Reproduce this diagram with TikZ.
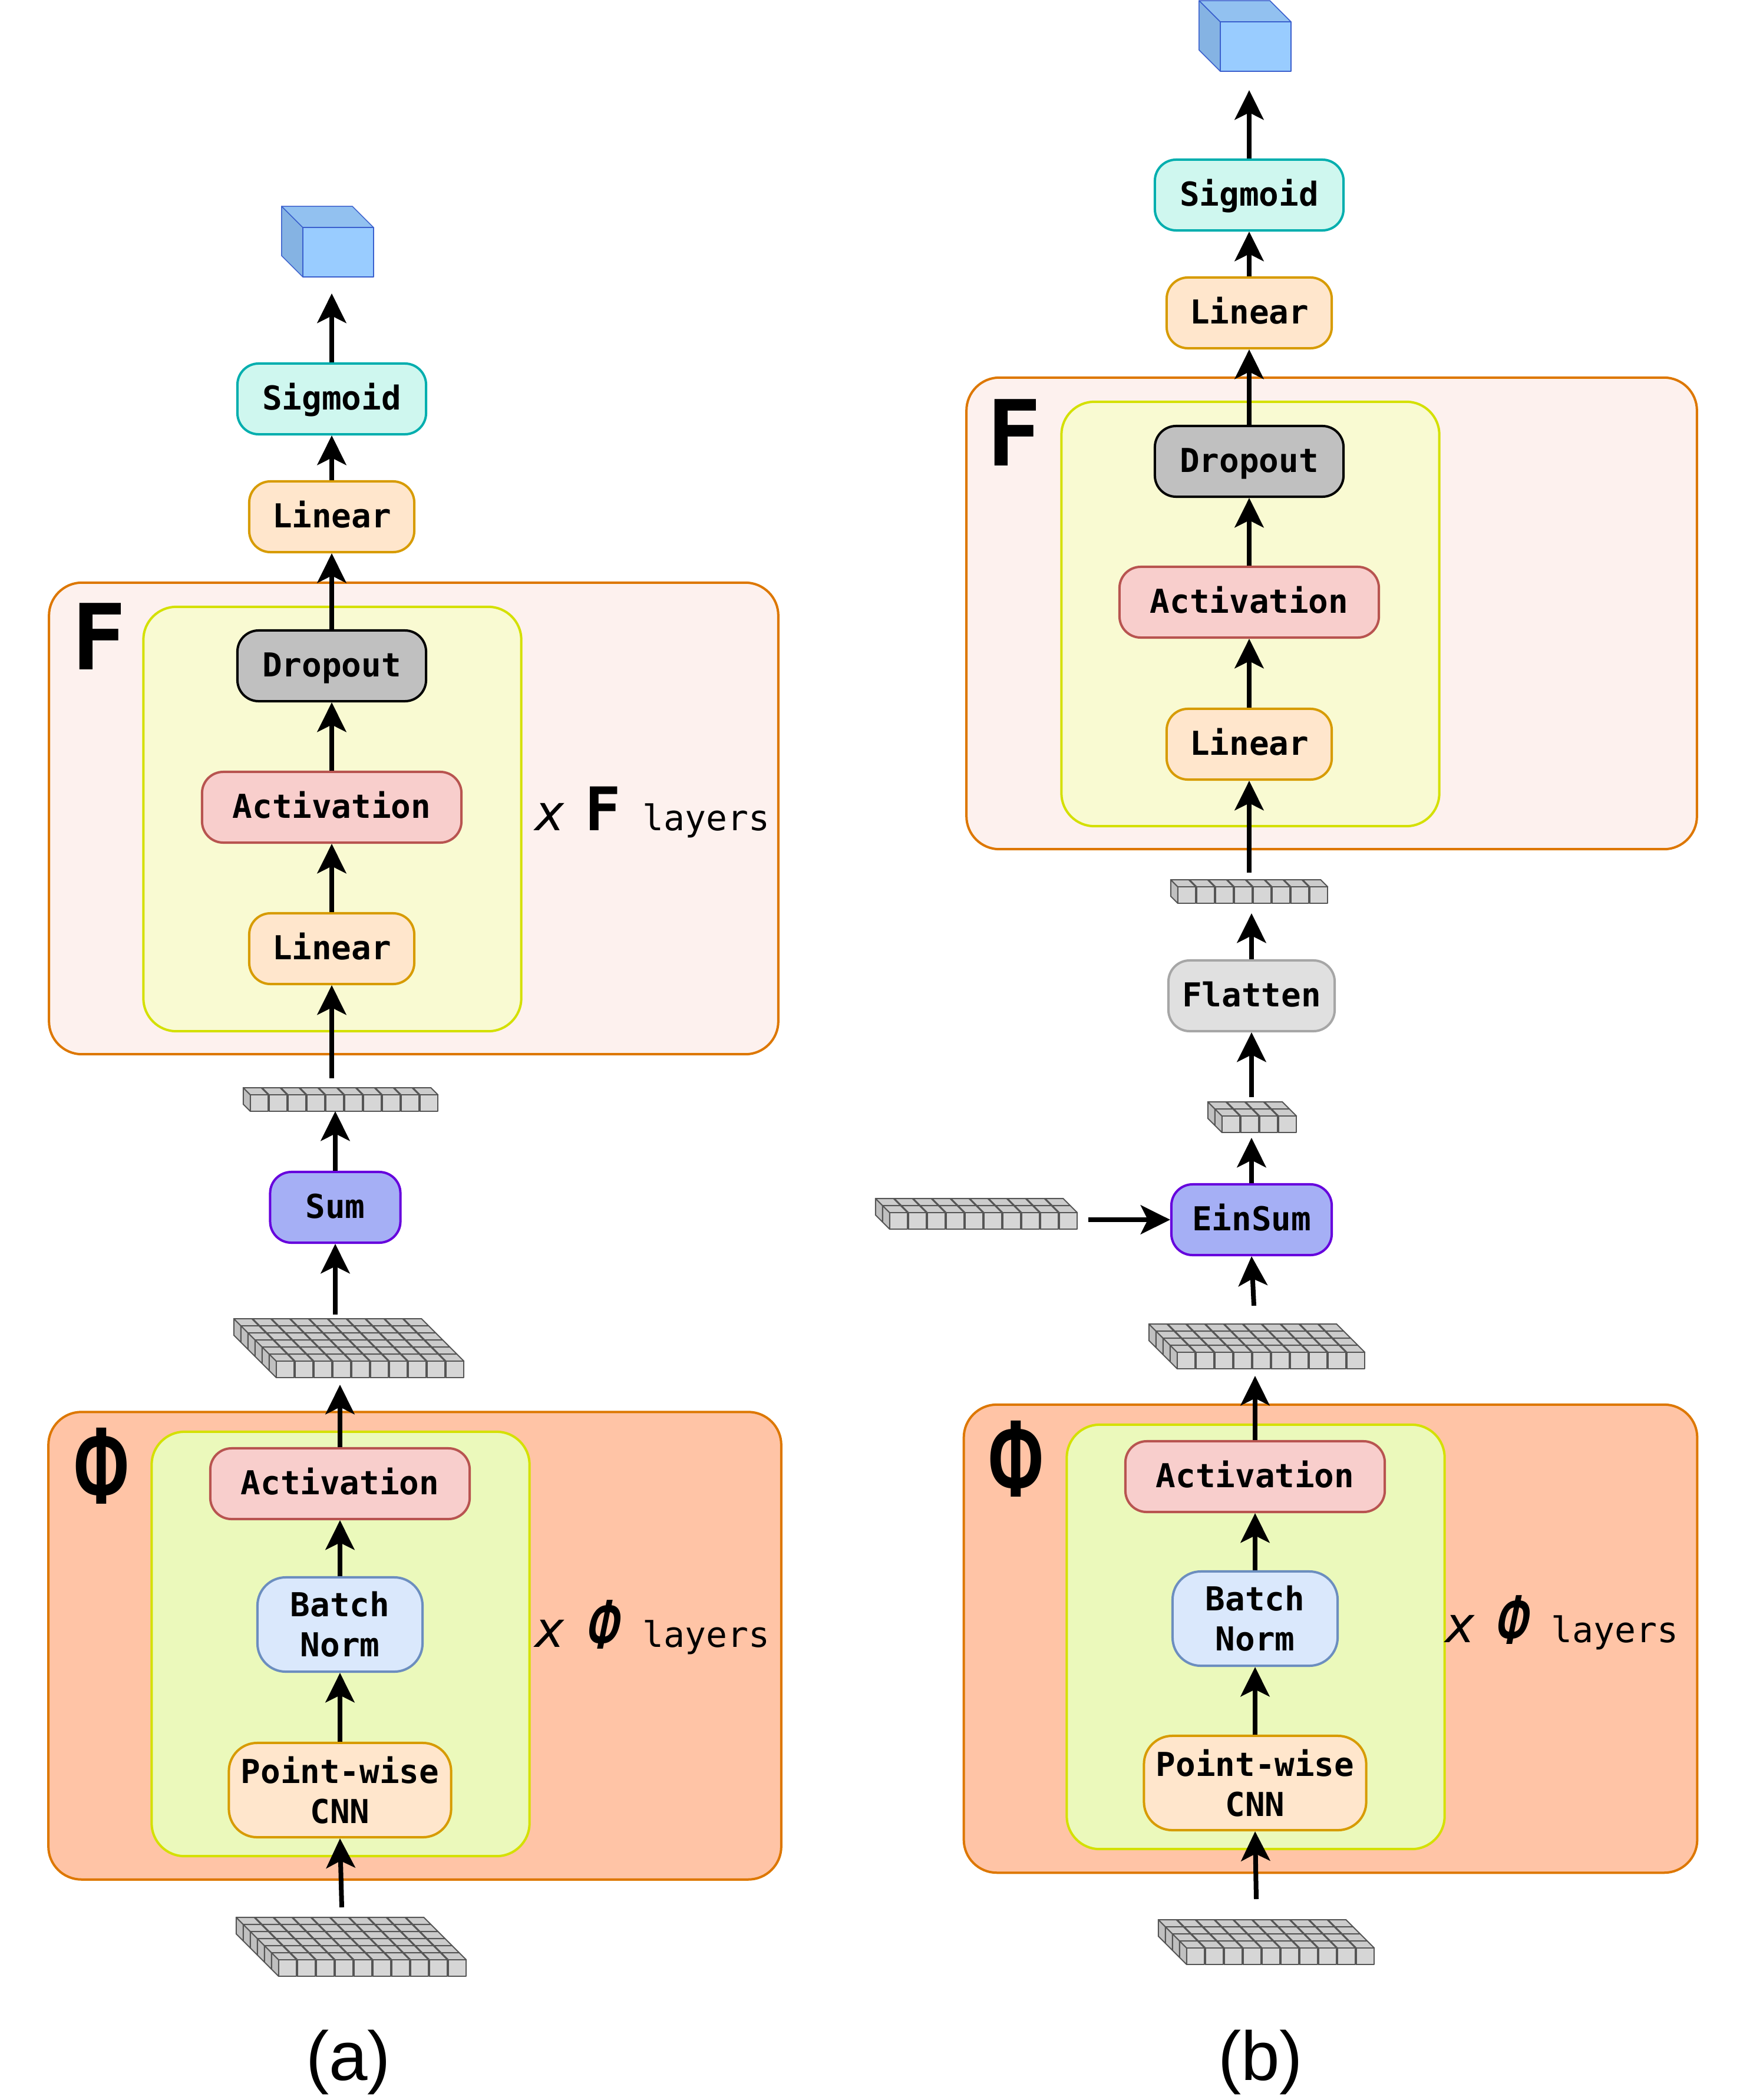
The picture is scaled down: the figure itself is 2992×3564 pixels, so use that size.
\documentclass[tikz,border=0pt]{standalone}
\usepackage{fontspec}
\setmainfont{Liberation Sans}
\setmonofont{DejaVu Sans Mono}
\newfontfamily\phifont{Fira Sans}
\usetikzlibrary{arrows.meta}

\definecolor{actfill}{HTML}{F8CECC}
\definecolor{actline}{HTML}{B85450}
\definecolor{linfill}{HTML}{FFE6CC}
\definecolor{linline}{HTML}{D79B00}
\definecolor{bnfill}{HTML}{DAE8FC}
\definecolor{bnline}{HTML}{6C8EBF}
\definecolor{sigfill}{HTML}{CFF7EF}
\definecolor{sigline}{HTML}{00AEAE}
\definecolor{dropfill}{HTML}{C0C0C0}
\definecolor{sumfill}{HTML}{A5AFF5}
\definecolor{sumline}{HTML}{6600DD}
\definecolor{flatfill}{HTML}{E0E0E0}
\definecolor{flatline}{HTML}{A6A6A6}
\definecolor{panelline}{HTML}{DD7700}
\definecolor{panelF}{HTML}{FDF1EE}
\definecolor{panelPhi}{HTML}{FFC4A6}
\definecolor{innerline}{HTML}{D4E000}
\definecolor{innerF}{HTML}{F9FAD2}
\definecolor{innerPhi}{HTML}{EBF9BB}
\definecolor{cellfront}{HTML}{D6D6D6}
\definecolor{celltop}{HTML}{CCCCCC}
\definecolor{cellleft}{HTML}{C0C0C0}
\definecolor{cellline}{HTML}{555555}
\definecolor{cubefront}{HTML}{99CCFF}
\definecolor{cubetop}{HTML}{92C1F0}
\definecolor{cubeleft}{HTML}{85B3E3}
\definecolor{cubeline}{HTML}{3A5FCD}

\tikzset{
  block/.style={draw, rounded corners=0.36cm, line width=0.04cm, inner sep=0, align=center,
    minimum height=1.2cm, text height=0.48cm, text depth=0.11cm,
    font=\ttfamily\bfseries\fontsize{15.9}{19.35}\selectfont},
  tallblock/.style={block, rounded corners=0.48cm, minimum height=1.6cm, text height=, text depth=},
  actbox/.style={block, fill=actfill, draw=actline, minimum width=4.4cm},
  linbox/.style={block, fill=linfill, draw=linline, minimum width=2.8cm},
  sigbox/.style={block, fill=sigfill, draw=sigline, minimum width=3.2cm},
  dropbox/.style={block, fill=dropfill, draw=black, minimum width=3.2cm},
  sumbox/.style={block, fill=sumfill, draw=sumline},
  flatbox/.style={block, fill=flatfill, draw=flatline, minimum width=2.82cm},
  bnbox/.style={tallblock, fill=bnfill, draw=bnline, minimum width=2.8cm},
  cnnbox/.style={tallblock, fill=linfill, draw=linline, minimum width=3.77cm},
  panel/.style={draw=panelline, rounded corners=0.56cm, line width=0.04cm, inner sep=0},
  inner/.style={draw=innerline, rounded corners=0.56cm, line width=0.04cm, inner sep=0,
    minimum width=6.41cm, minimum height=7.2cm},
  flow/.style={line width=0.08cm, -{Stealth[length=0.5cm,width=0.49cm,inset=0.12cm]}},
  bigmark/.style={inner sep=0, font=\ttfamily\bfseries\fontsize{44}{44}\selectfont},
  bigphi/.style={inner sep=0, font=\phifont\bfseries\fontsize{53}{53}\selectfont},
  timesmark/.style={anchor=base west, inner sep=0, font=\ttfamily\itshape\fontsize{24}{24}\selectfont},
  countmark/.style={anchor=base west, inner sep=0, font=\ttfamily\bfseries\fontsize{29}{29}\selectfont},
  countphi/.style={anchor=base west, inner sep=0, transform shape, xslant=0.2,
    font=\phifont\bfseries\fontsize{34}{34}\selectfont},
  layerword/.style={anchor=base west, inner sep=0, font=\ttfamily\fontsize{17}{17}\selectfont},
  caption/.style={inner sep=0, font=\rmfamily\fontsize{33.5}{33.5}\selectfont},
  cell/.style={draw=cellline, line width=0.02cm, line join=round},
  hull/.style={inner sep=0, outer sep=0}
}

% name, centre x, centre y, columns, rows
\newcommand{\tensorgrid}[5]{
  \pgfmathsetmacro{\gridw}{#4*32+#5*12-1.5}
  \pgfmathsetmacro{\gridh}{#5*12+28}
  \node[hull, minimum width=\gridw*0.01cm, minimum height=\gridh*0.01cm] (#1) at (#2,#3) {};
  \begin{scope}[shift={(#1.south west)}]
    \pgfmathtruncatemacro{\lastrow}{#5-1}
    \pgfmathtruncatemacro{\lastcol}{#4-1}
    \foreach \row in {\lastrow,...,0} {
      \foreach \col in {\lastcol,...,0} {
        \pgfmathsetmacro{\cx}{(#5-\row)*12+\col*32}
        \pgfmathsetmacro{\cy}{-\row*12}
        \draw[cell, fill=cellleft] (\cx,\cy) -- ++(-12,-12) -- ++(0,-28) -- ++(12,12) -- cycle;
        \draw[cell, fill=celltop] (\cx,\cy-28) -- ++(-12,-12) -- ++(30.5,0) -- ++(12,12) -- cycle;
        \draw[cell, fill=cellfront] (\cx,\cy) rectangle ++(30.5,-28);
      }
    }
  \end{scope}
}

% name, centre x, centre y
\newcommand{\outcube}[3]{
  \node[hull, minimum width=1.56cm, minimum height=1.2cm] (#1) at (#2,#3) {};
  \begin{scope}[shift={(#1.south west)}, draw=cubeline, line width=0.015cm, line join=round]
    \draw[fill=cubeleft] (36,0) -- (0,-36) -- (0,-120) -- (36,-84) -- cycle;
    \draw[fill=cubetop] (0,-120) -- (120,-120) -- (156,-84) -- (36,-84) -- cycle;
    \draw[fill=cubefront] (36,0) rectangle (156,-84);
  \end{scope}
}

\begin{document}
\begin{tikzpicture}[x=0.01cm, y=-0.01cm]
  \useasboundingbox (0,0) rectangle (2992,3564);

  % (a)
  \node[panel, fill=panelF, minimum width=12.37cm, minimum height=8cm] (panelFa) at (702,1389) {};
  \node[inner, fill=innerF] (innerFa) at (564,1390) {};
  \node[panel, fill=panelPhi, minimum width=12.43cm, minimum height=7.93cm] (panelPhia) at (704,2793) {};
  \node[inner, fill=innerPhi] (innerPhia) at (578,2790) {};

  \node[sigbox] (sigA) at (563,677) {Sigmoid};
  \node[linbox] (linTopA) at (563,877) {Linear};
  \node[dropbox] (dropA) at (563,1130) {Dropout};
  \node[actbox] (actFA) at (563,1370) {Activation};
  \node[linbox] (linFA) at (563,1610) {Linear};
  \node[sumbox, minimum width=2.21cm] (sumA) at (569,2049) {Sum};
  \node[actbox] (actPhiA) at (577,2518) {Activation};
  \node[bnbox] (bnA) at (577,2757) {Batch\\Norm};
  \node[cnnbox] (cnnA) at (577,3038) {Point-wise\\CNN};

  \outcube{cubeA}{556}{410}
  \tensorgrid{vecA}{578}{1866}{10}{1}
  \tensorgrid{gridA}{592}{2288}{10}{6}
  \tensorgrid{gridInA}{596}{3304}{10}{6}
  \coordinate (tailA) at (580,3237);

  \draw[flow, shorten >=0.28cm] (sigA.north) -- (sigA.north |- cubeA.south);
  \draw[flow] (linTopA.north) -- (sigA.south);
  \draw[flow] (dropA.north) -- (linTopA.south);
  \draw[flow] (actFA.north) -- (dropA.south);
  \draw[flow] (linFA.north) -- (actFA.south);
  \draw[flow, shorten <=0.16cm] (linFA.south |- vecA.north) -- (linFA.south);
  \draw[flow] (sumA.north) -- (sumA.north |- vecA.south);
  \draw[flow, shorten <=0.07cm] (sumA.south |- gridA.north) -- (sumA.south);
  \draw[flow, shorten >=0.12cm] (actPhiA.north) -- (actPhiA.north |- gridA.south);
  \draw[flow] (bnA.north) -- (actPhiA.south);
  \draw[flow] (cnnA.north) -- (bnA.south);
  \draw[flow] (tailA) -- (cnnA.south);

  \node[bigmark] (markFa) at (168,1080) {F};
  \node[bigphi] (markPhia) at (172,2488) {\scalebox{0.57}[1]{Φ}};
  \node[timesmark] (timesFa) at (908,1409) {x};
  \node[countmark] (countFa) at (992,1409) {F};
  \node[layerword] (wordFa) at (1090,1409) {layers};
  \node[timesmark] (timesPhia) at (908,2795) {x};
  \node[countphi] (countPhia) at (992,2798) {\scalebox{0.52}[1]{Φ}};
  \node[layerword] (wordPhia) at (1090,2795) {layers};
  \node[caption] (capA) at (591,3500) {(a)};

  % (b)
  \node[panel, fill=panelF, minimum width=12.39cm, minimum height=8cm] (panelFb) at (2260,1041) {};
  \node[inner, fill=innerF] (innerFb) at (2122,1042) {};
  \node[panel, fill=panelPhi, minimum width=12.44cm, minimum height=7.94cm] (panelPhib) at (2258,2781) {};
  \node[inner, fill=innerPhi] (innerPhib) at (2131,2778) {};

  \node[sigbox] (sigB) at (2120,331) {Sigmoid};
  \node[linbox] (linTopB) at (2120,531) {Linear};
  \node[dropbox] (dropB) at (2120,783) {Dropout};
  \node[actbox] (actFB) at (2120,1022) {Activation};
  \node[linbox] (linFB) at (2120,1263) {Linear};
  \node[flatbox] (flatB) at (2124,1690) {Flatten};
  \node[sumbox, minimum width=2.72cm] (einB) at (2124,2070) {EinSum};
  \node[actbox] (actPhiB) at (2130,2506) {Activation};
  \node[bnbox] (bnB) at (2130,2747) {Batch\\Norm};
  \node[cnnbox] (cnnB) at (2130,3026) {Point-wise\\CNN};

  \outcube{cubeB}{2113}{61}
  \tensorgrid{vecB}{2120}{1513}{8}{1}
  \tensorgrid{smallB}{2125}{1896}{4}{2}
  \tensorgrid{sideB}{1657}{2060}{10}{2}
  \tensorgrid{gridB}{2133}{2285}{10}{4}
  \tensorgrid{gridInB}{2149}{3296}{10}{4}
  \coordinate (tailGridB) at (2128,2216);
  \coordinate (tailB) at (2132,3223);

  \draw[flow, shorten >=0.32cm] (sigB.north) -- (sigB.north |- cubeB.south);
  \draw[flow] (linTopB.north) -- (sigB.south);
  \draw[flow] (dropB.north) -- (linTopB.south);
  \draw[flow] (actFB.north) -- (dropB.south);
  \draw[flow] (linFB.north) -- (actFB.south);
  \draw[flow, shorten <=0.12cm] (linFB.south |- vecB.north) -- (linFB.south);
  \draw[flow, shorten >=0.17cm] (flatB.north) -- (flatB.north |- vecB.south);
  \draw[flow, shorten <=0.08cm] (flatB.south |- smallB.north) -- (flatB.south);
  \draw[flow, shorten >=0.09cm] (einB.north) -- (einB.north |- smallB.south);
  \draw[flow, shorten <=0.19cm] (sideB.east |- einB.west) -- (einB.west);
  \draw[flow] (tailGridB) -- (einB.south);
  \draw[flow, shorten >=0.12cm] (actPhiB.north) -- (actPhiB.north |- gridB.south);
  \draw[flow] (bnB.north) -- (actPhiB.south);
  \draw[flow] (cnnB.north) -- (bnB.south);
  \draw[flow] (tailB) -- (cnnB.south);

  \node[bigmark] (markFb) at (1721,734) {F};
  \node[bigphi] (markPhib) at (1724,2476) {\scalebox{0.57}[1]{Φ}};
  \node[timesmark] (timesPhib) at (2453,2787) {x};
  \node[countphi] (countPhib) at (2535,2790) {\scalebox{0.52}[1]{Φ}};
  \node[layerword] (wordPhib) at (2632,2787) {layers};
  \node[caption] (capB) at (2139,3500) {(b)};
\end{tikzpicture}
\end{document}
